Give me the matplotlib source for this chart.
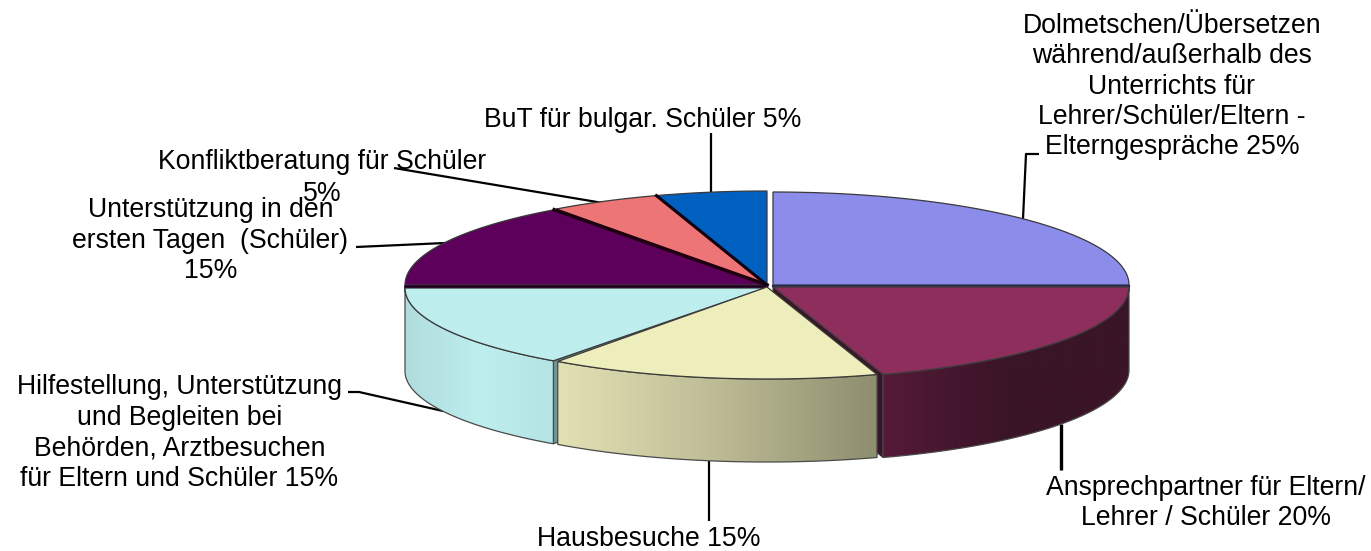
import matplotlib
matplotlib.use("Agg")
import matplotlib.pyplot as plt
import numpy as np
from matplotlib.colors import LinearSegmentedColormap
from matplotlib.patches import Polygon

plt.rcParams['font.family'] = ['Liberation Sans', 'DejaVu Sans']

# clockwise from 12 o'clock
slices = ['Dolmetschen', 'Ansprechpartner', 'Hausbesuche', 'Hilfestellung',
          'Unterstuetzung', 'Konfliktberatung', 'BuT']
values = [25, 20, 15, 15, 15, 5, 5]
top_colors = ['#8C8CEB', '#8D2E5C', '#EEEDBC', '#BDEDED', '#5C005C', '#EE7575', '#0060C0']

label_texts = [
    'Dolmetschen/Übersetzen\nwährend/außerhalb des\nUnterrichts für\nLehrer/Schüler/Eltern -\nElterngespräche 25%',
    'Ansprechpartner für Eltern/\nLehrer / Schüler 20%',
    'Hausbesuche 15%',
    'Hilfestellung, Unterstützung\nund Begleiten bei\nBehörden, Arztbesuchen\nfür Eltern und Schüler 15%',
    'Unterstützung in den\nersten Tagen  (Schüler)\n15%',
    'Konfliktberatung für Schüler\n5%',
    'BuT für bulgar. Schüler 5%',
]

# pie geometry in pixels, one entry per slice (exploded a little)
centers = [(773, 285), (773, 287), (767, 287), (765, 288), (767, 285), (767, 285), (767, 285)]
radii_x = [356, 356, 356, 360, 362, 358, 358]
radii_y = [93, 92, 92, 90, 93, 94, 94]
depth = 83

wall_colors = {
    1: ['#541A37', '#3A1427', '#3A1427'],
    2: ['#E3E1B4', '#BDBB94', '#8D8E6F'],
    3: ['#B0DCDC', '#BEEEEE', '#B4E4E4'],
}

label_pos = [(1172, 86.5), (1206, 503), (649, 539), (179.5, 433), (210.5, 240.5), (322, 178), (643, 120)]
label_spacing = [1.22, 1.22, 1.22, 1.22, 1.24, 1.27, 1.22]

leaders = [
    [(1039, 154), (1026, 154), (1023, 219)],
    [(1061, 424), (1061, 470)],
    [(709, 461), (709, 521)],
    [(348, 392), (359, 392), (443, 411)],
    [(356, 247), (445, 243)],
    [(394, 168), (603, 203)],
    [(711, 133), (711, 192)],
]
leader_widths = [1.6, 2.4, 1.6, 1.6, 1.6, 1.6, 1.6]

fig = plt.figure(figsize=(13.71, 5.51), dpi=100)
ax = fig.add_axes([0, 0, 1, 1])
ax.set_xlim(0, 1371)
ax.set_ylim(551, 0)
ax.axis('off')

# angles from the values, clockwise from the top
ends = np.cumsum(values) / sum(values) * 360
starts = np.concatenate([[0], ends[:-1]])


def arc(i, n=80):
    a = np.radians(90 - np.linspace(starts[i], ends[i], n))
    cx, cy = centers[i]
    return np.column_stack([cx + radii_x[i] * np.cos(a), cy - radii_y[i] * np.sin(a)])


def draw_top(i, z):
    pts = np.vstack([[centers[i]], arc(i)])
    ax.add_patch(Polygon(pts, closed=True, facecolor=top_colors[i], edgecolor='#3A3A3A', lw=0.9, zorder=z, joinstyle='miter'))


def draw_wall(i, z):
    pts = arc(i)
    down = pts + [0, depth]
    poly = Polygon(np.vstack([pts, down[::-1]]), closed=True, facecolor='none', edgecolor='#4A4A4A', lw=0.9, zorder=z + 0.1)
    ax.add_patch(poly)
    cmap = LinearSegmentedColormap.from_list('w', wall_colors[i])
    x0, x1 = pts[:, 0].min(), pts[:, 0].max()
    y0, y1 = pts[:, 1].min(), down[:, 1].max()
    im = ax.imshow(np.linspace(0, 1, 256)[None, :], cmap=cmap, extent=[x0, x1, y1, y0], aspect='auto', zorder=z)
    im.set_clip_path(poly)


def draw_end(i, angle_idx, color, z):
    # the cut face of a slice, mostly hidden by its neighbour
    pts = arc(i)
    outer = pts[angle_idx]
    c = np.array(centers[i], dtype=float)
    face = [outer, c, c + [0, depth], outer + [0, depth]]
    ax.add_patch(Polygon(face, closed=True, facecolor=color, edgecolor='#303030', lw=0.7, zorder=z))


# back slices
draw_top(4, 2)
draw_top(5, 3)
draw_top(6, 4)
draw_top(0, 5)
ax.plot([centers[4][0], arc(4)[-1][0]], [centers[4][1], arc(4)[-1][1]], color='#200010', lw=2.6, zorder=3.5)
ax.plot([centers[5][0], arc(5)[-1][0]], [centers[5][1], arc(5)[-1][1]], color='#100010', lw=2.2, zorder=4.5)
ax.plot([centers[0][0], centers[0][0] + radii_x[0]], [centers[0][1] + 0.5] * 2, color='#2A2A55', lw=1.6, zorder=5.5)

# front slices, painted back to front
draw_end(1, -1, '#3A1427', 6)
draw_wall(1, 7)
draw_top(1, 8)
draw_end(3, 0, '#6F9494', 6)
draw_wall(3, 9)
draw_top(3, 10)
ax.plot([centers[3][0], centers[3][0] - radii_x[3]], [centers[3][1] - 2.5] * 2, color='#200020', lw=2.0, zorder=10.5)
draw_wall(2, 11)
draw_top(2, 12)

# leader lines go behind the pie
for line, w in zip(leaders, leader_widths):
    xs, ys = zip(*line)
    ax.plot(xs, ys, color='black', lw=w, zorder=1, solid_capstyle='butt')

for txt, (x, y), sp in zip(label_texts, label_pos, label_spacing):
    ax.text(x, y, txt, ha='center', va='center', fontsize=19.2, color='black', linespacing=sp, zorder=20)

fig.savefig('out.png', dpi=100)
